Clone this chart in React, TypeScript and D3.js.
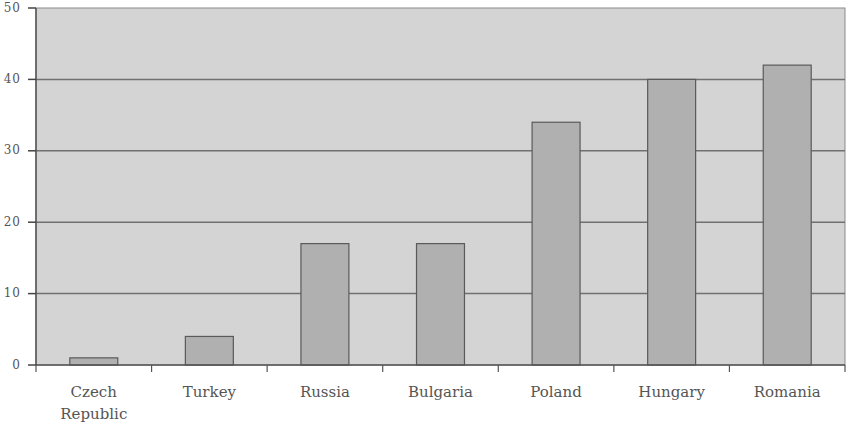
import React from "react";
import * as d3 from "d3";

const categories = ["Czech Republic", "Turkey", "Russia", "Bulgaria", "Poland", "Hungary", "Romania"];
const labelLines = [["Czech", "Republic"], ["Turkey"], ["Russia"], ["Bulgaria"], ["Poland"], ["Hungary"], ["Romania"]];
const values = [1, 4, 17, 17, 34, 40, 42];
const yTicks = [0, 10, 20, 30, 40, 50];

const W = 850, H = 430;
const M = { left: 36, right: 5, top: 8, bottom: 65 };

export default function App() {
  const x = d3.scaleBand<string>().domain(categories).range([M.left, W - M.right]).padding(0);
  const y = d3.scaleLinear().domain([0, 50]).range([H - M.bottom, M.top]);
  const bw = x.bandwidth() * 0.415;
  const font = "'DejaVu Serif', serif";
  const x0 = M.left, x1 = W - M.right, y0 = y(0), yTop = y(50);
  return (
    <svg width={W} height={H} style={{ position: "absolute", left: 0, top: 0 }}>
      <rect x={x0} y={yTop} width={x1 - x0} height={y0 - yTop} fill="#d4d4d4" stroke="#8a8a8a" strokeWidth={1} />
      {yTicks.filter(t => t > 0 && t < 50).map(t => (
        <line key={t} x1={x0} x2={x1} y1={y(t)} y2={y(t)} stroke="#707070" strokeWidth={1.5} />
      ))}
      {categories.map((c, i) => (
        <rect key={c} x={(x(c) as number) + (x.bandwidth() - bw) / 2} y={y(values[i])}
          width={bw} height={y0 - y(values[i])} fill="#b0b0b0" stroke="#5a5a5a" strokeWidth={1.2} />
      ))}
      <line x1={x0} x2={x0} y1={yTop} y2={y0} stroke="#555" strokeWidth={1.5} />
      <line x1={x0} x2={x1} y1={y0} y2={y0} stroke="#555" strokeWidth={1.5} />
      {yTicks.map(t => (
        <g key={t}>
          <line x1={x0 - 8} x2={x0} y1={y(t)} y2={y(t)} stroke="#444" strokeWidth={1.5} />
          <text x={21} y={y(t)} dy="0.3em" textAnchor="end" fontFamily={font} fontSize={12} letterSpacing={1} fill="#555">{t}</text>
        </g>
      ))}
      {[...categories.map(c => x(c) as number), x1].map((v, i) => (
        <line key={i} x1={v} x2={v} y1={y0} y2={y0 + 7} stroke="#555" strokeWidth={1.2} />
      ))}
      {categories.map((c, i) => (
        <text key={c} x={(x(c) as number) + x.bandwidth() / 2} y={y0 + 32} textAnchor="middle"
          fontFamily={font} fontSize={15} fill="#555">
          {labelLines[i].map((l, j) => (
            <tspan key={j} x={(x(c) as number) + x.bandwidth() / 2} dy={j === 0 ? 0 : 22}>{l}</tspan>
          ))}
        </text>
      ))}
    </svg>
  );
}
